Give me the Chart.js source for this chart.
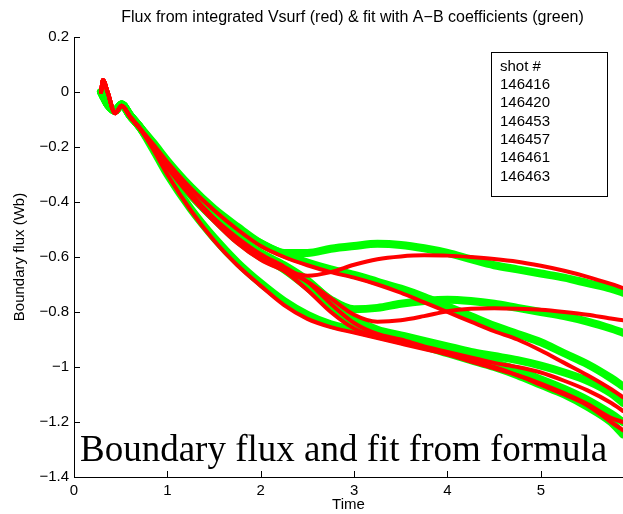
<!DOCTYPE html>
<html><head><meta charset="utf-8">
<script src="https://cdn.jsdelivr.net/npm/chart.js@4.4.1/dist/chart.umd.min.js"></script>
<style>html,body{margin:0;padding:0;background:#fff;overflow:hidden}</style>
</head><body>
<canvas id="c" width="623" height="514"></canvas>
<script>
// ---- data ----
const titleText = 'Flux from integrated Vsurf (red) & fit with A\u2212B coefficients (green)';
const noteText = 'Boundary flux and fit from formula';
const legendTitle = 'shot #';
const shots = ['146416', '146420', '146453', '146457', '146461', '146463'];
const xTicks = [0, 1, 2, 3, 4, 5];
const yTicks = [0.2, 0, -0.2, -0.4, -0.6, -0.8, -1, -1.2, -1.4];

const time = [0.29, 0.31, 0.36, 0.44, 0.51, 0.6, 0.7, 0.85, 1.0, 1.25, 1.5, 1.75, 2.0, 2.25, 2.5, 2.75,
              3.0, 3.25, 3.5, 3.75, 4.0, 4.25, 4.5, 4.75, 5.0, 5.25, 5.5, 5.75, 5.88];

const redStart = [0, 0.044, 0.0, -0.077, -0.05, -0.09, -0.13];
const greenStart = [0, -0.013, -0.045, -0.068, -0.045, -0.085, -0.125];

const redU = [-0.19, -0.255, -0.35, -0.43, -0.5, -0.56, -0.6, -0.63, -0.655, -0.675, -0.7, -0.73, -0.765, -0.8, -0.835, -0.87, -0.9, -0.94, -0.985, -1.03, -1.08, -1.11];
const redP = [-0.2, -0.27, -0.37, -0.46, -0.54, -0.6, -0.645, -0.668, -0.655, -0.628, -0.608, -0.598, -0.594, -0.595, -0.6, -0.607, -0.617, -0.632, -0.65, -0.672, -0.698, -0.713];
const redQ = [-0.2, -0.275, -0.38, -0.47, -0.55, -0.61, -0.65, -0.69, -0.75, -0.81, -0.835, -0.83, -0.815, -0.797, -0.788, -0.786, -0.788, -0.792, -0.8, -0.81, -0.824, -0.83];
const redL = [-0.21, -0.3, -0.43, -0.54, -0.63, -0.705, -0.775, -0.825, -0.855, -0.875, -0.895, -0.915, -0.935, -0.955, -0.98, -1.005, -1.03, -1.06, -1.095, -1.135, -1.185, -1.2];
const redM = [-0.2, -0.27, -0.37, -0.465, -0.54, -0.6, -0.65, -0.72, -0.8, -0.86, -0.89, -0.91, -0.93, -0.95, -0.975, -1.0, -1.03, -1.065, -1.1, -1.14, -1.2, -1.23];
const redN = [-0.2, -0.27, -0.37, -0.46, -0.53, -0.59, -0.635, -0.69, -0.77, -0.84, -0.88, -0.9, -0.925, -0.945, -0.965, -0.985, -1.0, -1.02, -1.05, -1.085, -1.13, -1.16];

const greenU = [-0.185, -0.25, -0.345, -0.425, -0.49, -0.55, -0.59, -0.62, -0.645, -0.665, -0.69, -0.715, -0.745, -0.78, -0.815, -0.85, -0.88, -0.91, -0.95, -0.99, -1.04, -1.07];
const greenP = [-0.19, -0.26, -0.36, -0.44, -0.5, -0.55, -0.585, -0.585, -0.57, -0.56, -0.552, -0.556, -0.568, -0.585, -0.608, -0.63, -0.645, -0.66, -0.675, -0.695, -0.715, -0.73];
const greenQ = [-0.2, -0.27, -0.375, -0.46, -0.54, -0.6, -0.64, -0.69, -0.755, -0.79, -0.785, -0.77, -0.76, -0.755, -0.76, -0.77, -0.785, -0.8, -0.815, -0.835, -0.86, -0.875];
const greenL = [-0.21, -0.3, -0.425, -0.53, -0.62, -0.695, -0.76, -0.81, -0.845, -0.865, -0.885, -0.905, -0.925, -0.95, -0.975, -1.0, -1.03, -1.065, -1.1, -1.145, -1.2, -1.245];
const greenM = [-0.2, -0.27, -0.37, -0.46, -0.535, -0.595, -0.645, -0.71, -0.785, -0.845, -0.875, -0.895, -0.915, -0.935, -0.96, -0.985, -1.01, -1.045, -1.08, -1.12, -1.17, -1.2];
const greenN = [-0.2, -0.27, -0.37, -0.455, -0.525, -0.585, -0.63, -0.685, -0.76, -0.825, -0.865, -0.885, -0.905, -0.925, -0.945, -0.96, -0.975, -0.995, -1.02, -1.05, -1.095, -1.13];

// ---- build ----
const SANS = '"Liberation Sans", Arial, Helvetica, sans-serif';
function pts(start, rest) {
  const v = start.concat(rest);
  return time.map((t, i) => ({x: t, y: v[i]}));
}
function ds(start, rest, color, width) {
  return {data: pts(start, rest), borderColor: color, borderWidth: width, pointRadius: 0,
          fill: false, cubicInterpolationMode: 'monotone', borderJoinStyle: 'round', borderCapStyle: 'round'};
}
const greens = [greenU, greenP, greenQ, greenL, greenM, greenN].map(g => ds(greenStart, g, '#00ff00', 8));
const reds = [redU, redP, redQ, redL, redM, redN].map(r => ds(redStart, r, '#ff0000', 4));

const fmt = v => { const r = Math.round(v * 10) / 10; return (r < 0 ? '\u2212' : '') + String(Math.abs(r)); };

const decor = {
  id: 'decor',
  afterDraw(chart) {
    const {ctx, chartArea: a, scales: {x, y}} = chart;
    ctx.save();
    ctx.strokeStyle = '#000';
    ctx.lineWidth = 1;
    ctx.beginPath();
    x.ticks.forEach((t, i) => {
      const px = Math.round(x.getPixelForTick(i)) + 0.5;
      ctx.moveTo(px, a.bottom); ctx.lineTo(px, a.bottom - 6);
    });
    y.ticks.forEach((t, i) => {
      const py = Math.round(y.getPixelForTick(i)) + 0.5;
      ctx.moveTo(a.left, py); ctx.lineTo(a.left + 6, py);
    });
    ctx.stroke();
    ctx.fillStyle = '#000';
    ctx.font = '16px ' + SANS;
    ctx.textAlign = 'center';
    ctx.textBaseline = 'middle';
    ctx.fillText(titleText, (a.left + a.right) / 2 + 4, 18);
    ctx.font = '37px "Liberation Serif", "Times New Roman", serif';
    ctx.textAlign = 'left';
    ctx.textBaseline = 'alphabetic';
    ctx.fillText(noteText, 80, 461);
    // legend box
    ctx.fillStyle = '#fff';
    ctx.fillRect(491.5, 52.5, 116, 144);
    ctx.strokeRect(491.5, 52.5, 116, 144);
    ctx.fillStyle = '#000';
    ctx.font = '15px ' + SANS;
    ctx.fillText(legendTitle, 500, 71);
    shots.forEach((s, i) => ctx.fillText(s, 500, 89 + i * 18.3));
    ctx.restore();
  }
};

new Chart(document.getElementById('c'), {
  type: 'line',
  // first dataset is drawn on top: reds above greens
  data: {datasets: reds.concat(greens)},
  plugins: [decor],
  options: {
    responsive: false,
    animation: false,
    devicePixelRatio: 1,
    layout: {padding: {top: 37, right: 0, bottom: 0, left: 0}},
    plugins: {legend: {display: false}, tooltip: {enabled: false}, title: {display: false}},
    scales: {
      x: {
        type: 'linear', min: 0, max: 5.88,
        afterFit: s => { s.height = 37; },
        afterBuildTicks: s => { s.ticks = xTicks.map(v => ({value: v})); },
        ticks: {includeBounds: false, padding: 5, color: '#000', font: {family: SANS, size: 15}, maxRotation: 0,
                callback: v => String(v)},
        grid: {display: true, drawOnChartArea: false, drawTicks: false},
        border: {display: true, color: '#000', width: 1},
        title: {display: true, text: 'Time', color: '#000', font: {family: SANS, size: 15}, padding: {top: 0, bottom: 0}}
      },
      y: {
        type: 'linear', min: -1.4, max: 0.2,
        afterFit: s => { s.width = 74; },
        afterBuildTicks: s => { s.ticks = yTicks.map(v => ({value: v})); },
        ticks: {padding: 5, color: '#000', font: {family: SANS, size: 15}, callback: v => fmt(v)},
        grid: {display: true, drawOnChartArea: false, drawTicks: false},
        border: {display: true, color: '#000', width: 1},
        title: {display: true, text: 'Boundary flux (Wb)', color: '#000', font: {family: SANS, size: 15}, padding: {top: 11, bottom: 0}}
      }
    }
  }
});
</script>
</body></html>
